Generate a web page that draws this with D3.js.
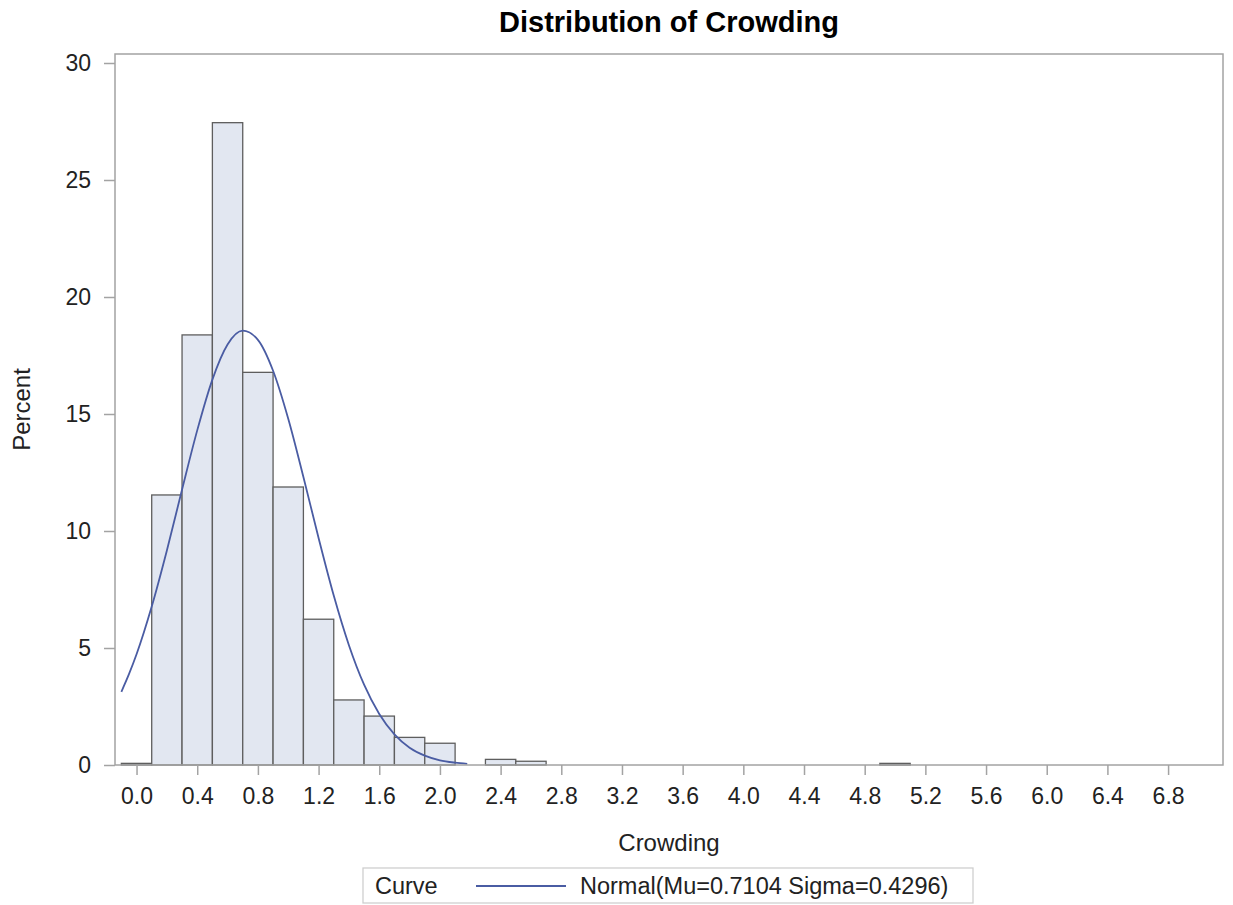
<!DOCTYPE html>
<html>
<head>
<meta charset="utf-8">
<script src="https://cdn.jsdelivr.net/npm/d3@7"></script>
<style>
  html, body { margin: 0; padding: 0; background: #fff; }
  svg { display: block; font-family: "Liberation Sans", Arial, sans-serif; }
</style>
</head>
<body>
<svg id="chart" width="1233" height="905"></svg>
<script>
// ---- data ----
const title = "Distribution of Crowding";
const xLabel = "Crowding";
const yLabel = "Percent";
const binCenters = [0.0, 0.2, 0.4, 0.6, 0.8, 1.0, 1.2, 1.4, 1.6, 1.8, 2.0, 2.4, 2.6, 5.0];
const binPercents = [0.07, 11.54, 18.38, 27.45, 16.78, 11.88, 6.23, 2.78, 2.09, 1.18, 0.93, 0.24, 0.16, 0.07];
const binWidth = 0.2;
const xTicks = [0.0, 0.4, 0.8, 1.2, 1.6, 2.0, 2.4, 2.8, 3.2, 3.6, 4.0, 4.4, 4.8, 5.2, 5.6, 6.0, 6.4, 6.8];
const yTicks = [0, 5, 10, 15, 20, 25, 30];
// fitted normal curve as drawn (Crowding, Percent)
const curveX =   [-0.1, -0.05, 0.0, 0.1, 0.2, 0.3, 0.4, 0.5, 0.6, 0.7, 0.8, 0.9, 1.0, 1.1, 1.2, 1.3, 1.4, 1.5, 1.6, 1.7, 1.8, 1.9, 2.0, 2.1, 2.18];
const curvePct = [3.13, 3.88, 4.73, 6.77, 9.17, 11.77, 14.30, 16.47, 17.97, 18.56, 18.17, 16.85, 14.80, 12.31, 9.70, 7.24, 5.12, 3.43, 2.18, 1.31, 0.74, 0.40, 0.20, 0.10, 0.05];
const legendTitle = "Curve";
const legendEntry = "Normal(Mu=0.7104 Sigma=0.4296)";

// ---- layout ----
const svg = d3.select("#chart");
const frame = { left: 115, right: 1223, top: 54, bottom: 765 };
const x = d3.scaleLinear().domain([-0.142, 7.162]).range([frame.left, frame.right]);
const y = d3.scaleLinear().domain([0, 30]).range([frame.bottom, 63]);

const axisColor = "#a3a3a3";
const textColor = "#222";
const fontFam = "Liberation Sans, Arial, sans-serif";

// bars
svg.append("g").selectAll("rect")
  .data(binCenters.map((c, i) => ({ c, p: binPercents[i] })))
  .join("rect")
  .attr("x", d => x(d.c - binWidth / 2))
  .attr("width", d => x(d.c + binWidth / 2) - x(d.c - binWidth / 2))
  .attr("y", d => y(d.p))
  .attr("height", d => y(0) - y(d.p))
  .attr("fill", "#e2e7f1")
  .attr("stroke", "#5e5e5e")
  .attr("stroke-width", 1.3);

// curve
const line = d3.line().x(d => x(d[0])).y(d => y(d[1])).curve(d3.curveMonotoneX);
svg.append("path")
  .datum(curveX.map((v, i) => [v, curvePct[i]]))
  .attr("d", line)
  .attr("fill", "none")
  .attr("stroke", "#4a5ca3")
  .attr("stroke-width", 1.8);

// frame
svg.append("rect")
  .attr("x", frame.left).attr("y", frame.top)
  .attr("width", frame.right - frame.left).attr("height", frame.bottom - frame.top)
  .attr("fill", "none").attr("stroke", axisColor).attr("stroke-width", 1.5);

// x axis
const xAxis = d3.axisBottom(x).tickValues(xTicks).tickFormat(d3.format(".1f")).tickSize(10).tickPadding(13).tickSizeOuter(0);
const gx = svg.append("g").attr("transform", `translate(0,${frame.bottom})`).call(xAxis);
gx.select(".domain").remove();
gx.selectAll(".tick line").attr("stroke", axisColor).attr("stroke-width", 1.5);
gx.selectAll(".tick text").attr("fill", textColor).attr("font-size", 23)
  .attr("font-family", fontFam);

// y axis
const yAxis = d3.axisLeft(y).tickValues(yTicks).tickFormat(d3.format("d")).tickSize(11).tickPadding(13).tickSizeOuter(0);
const gy = svg.append("g").attr("transform", `translate(${frame.left},0)`).call(yAxis);
gy.select(".domain").remove();
gy.selectAll(".tick line").attr("stroke", axisColor).attr("stroke-width", 1.5);
gy.selectAll(".tick text").attr("fill", textColor).attr("font-size", 23)
  .attr("font-family", fontFam);

// title
svg.append("text")
  .attr("x", (frame.left + frame.right) / 2).attr("y", 32)
  .attr("text-anchor", "middle")
  .attr("font-size", 29).attr("font-weight", "bold").attr("fill", "#000")
  .text(title);

// axis labels
svg.append("text")
  .attr("x", (frame.left + frame.right) / 2).attr("y", 851)
  .attr("text-anchor", "middle").attr("font-size", 24).attr("fill", textColor)
  .text(xLabel);
svg.append("text")
  .attr("transform", `translate(30,${(frame.top + frame.bottom) / 2}) rotate(-90)`)
  .attr("text-anchor", "middle").attr("font-size", 24).attr("fill", textColor)
  .text(yLabel);

// legend
const lg = svg.append("g");
lg.append("rect").attr("x", 363).attr("y", 868).attr("width", 610).attr("height", 35)
  .attr("fill", "#fff").attr("stroke", "#cfcfcf").attr("stroke-width", 1.3);
lg.append("text").attr("x", 375).attr("y", 894).attr("font-size", 23.5).attr("fill", textColor).text(legendTitle);
lg.append("line").attr("x1", 476).attr("x2", 566).attr("y1", 886).attr("y2", 886)
  .attr("stroke", "#4a5ca3").attr("stroke-width", 1.8);
lg.append("text").attr("x", 580).attr("y", 894).attr("font-size", 23.5).attr("fill", textColor).text(legendEntry);
</script>
</body>
</html>
